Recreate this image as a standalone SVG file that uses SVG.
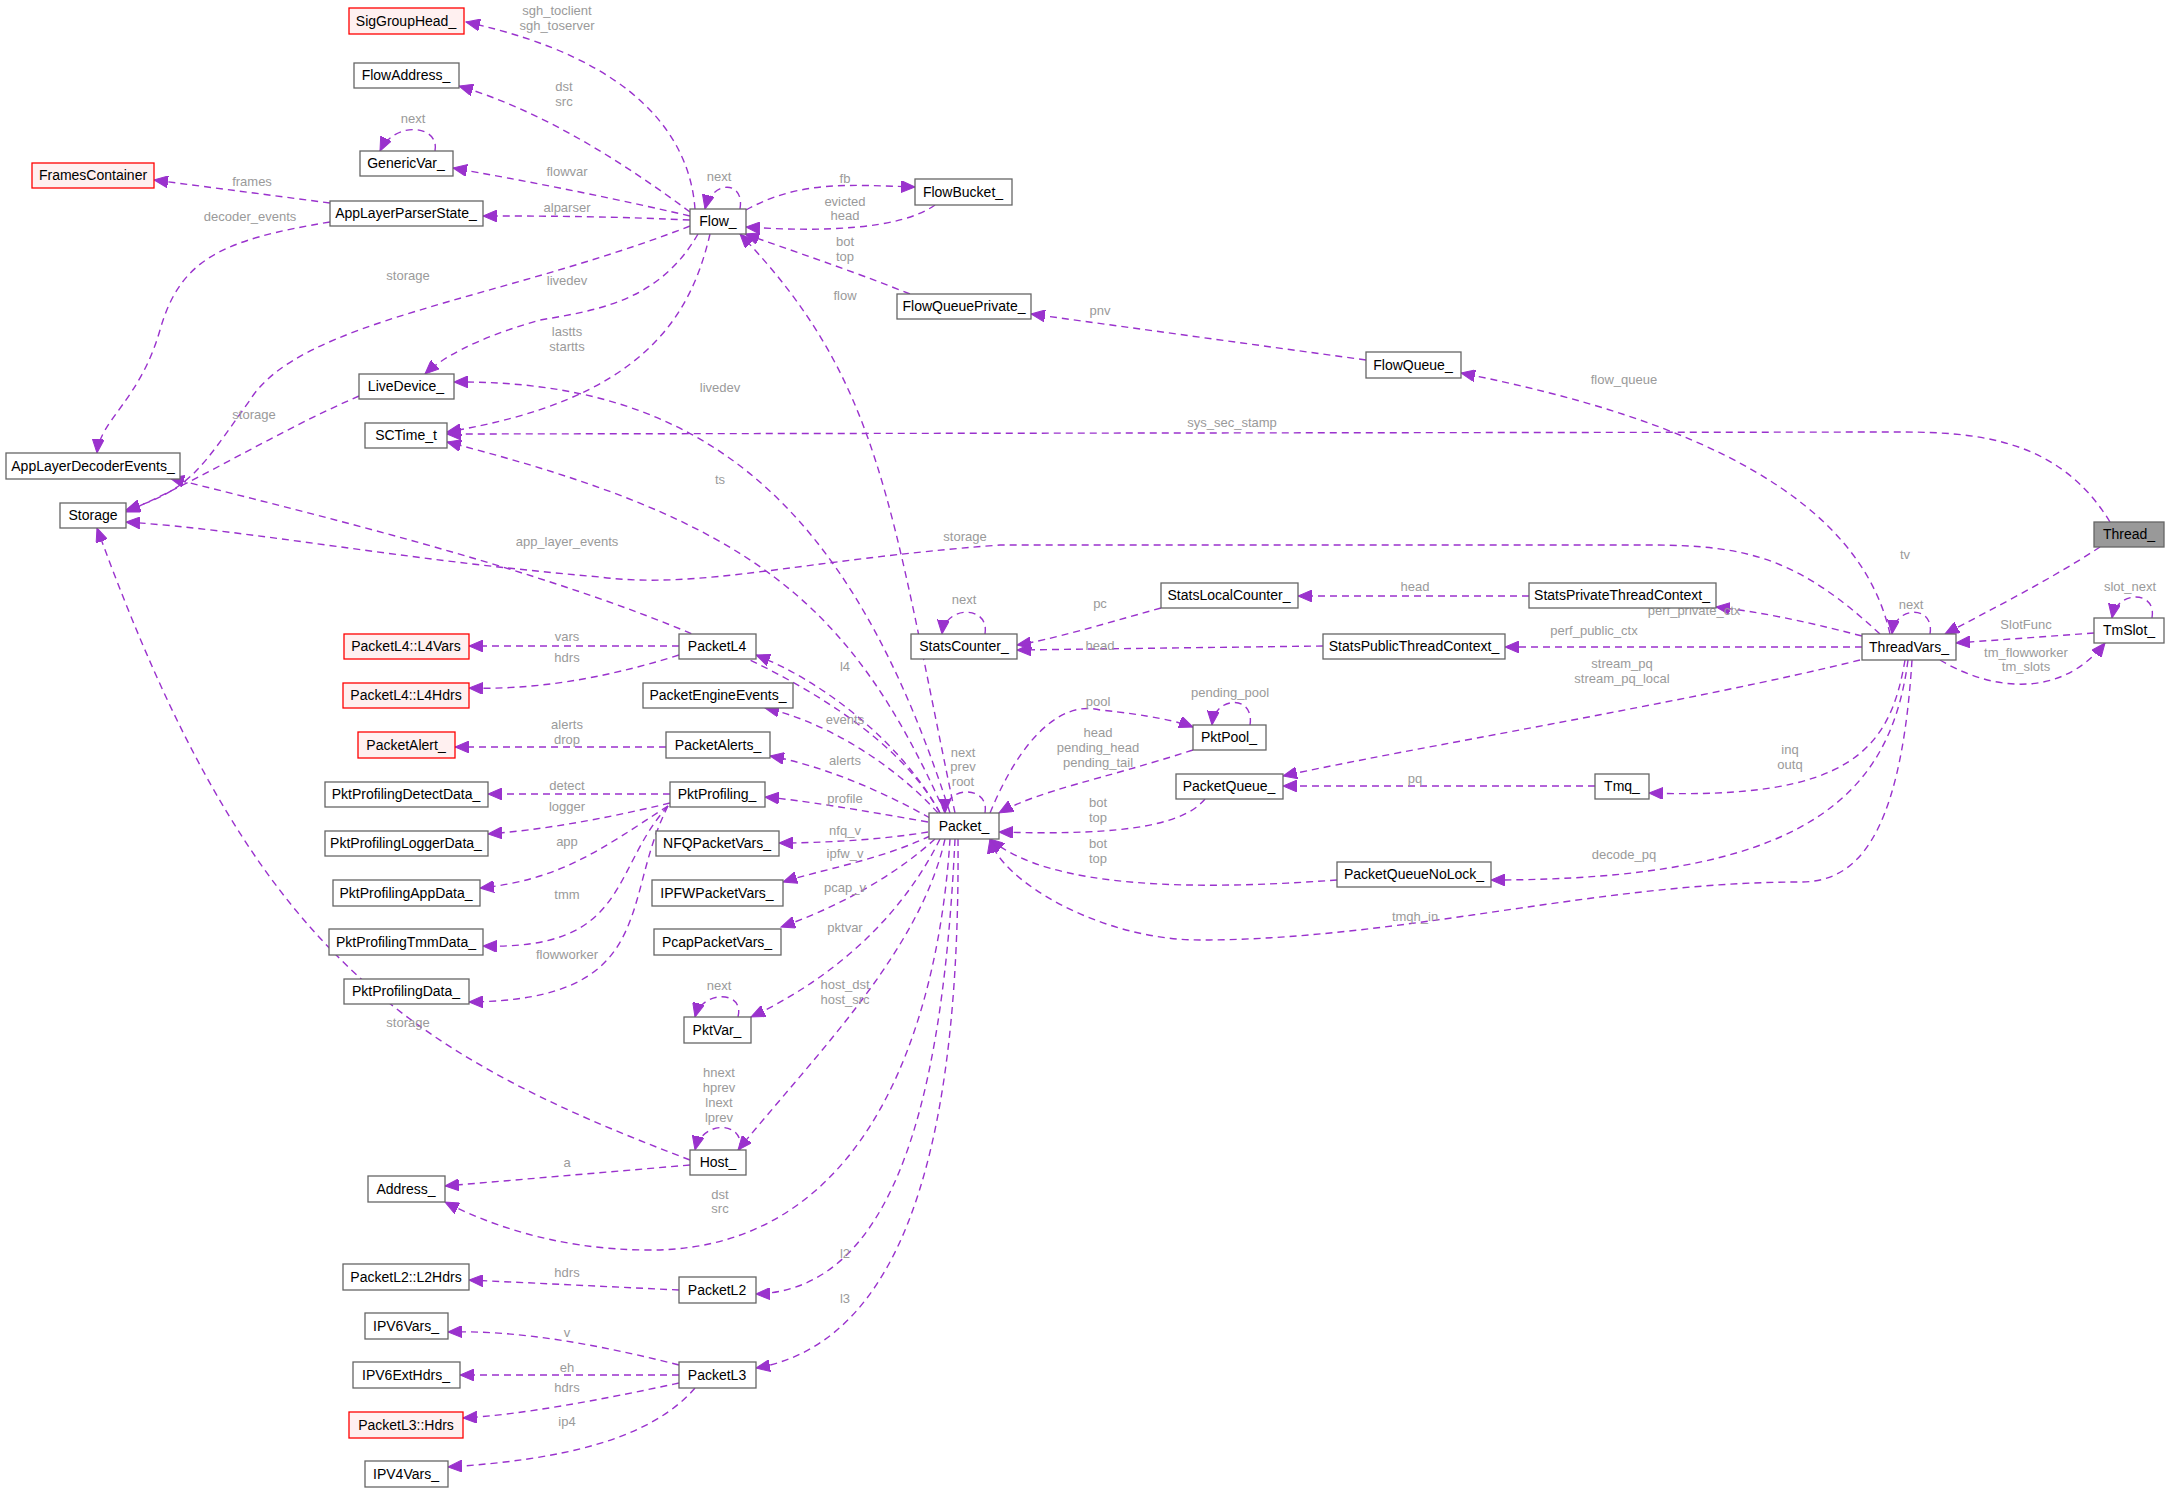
<svg xmlns="http://www.w3.org/2000/svg" width="2169" height="1493" viewBox="0 0 2169 1493">
<style>
.n rect{fill:#fff;stroke:#666;stroke-width:1.3}
.n.r rect{fill:#fff0f0;stroke:#f00}
.n.g rect{fill:#999}
.n text{font-family:"Liberation Sans",Arial,sans-serif;font-size:14px;text-anchor:middle;fill:#000}
#edges path{fill:none;stroke:#9a32cd;stroke-width:1.4;stroke-dasharray:7,5;marker-end:url(#a)}
.l{font-family:"Liberation Sans",Arial,sans-serif;font-size:13px;fill:#9a9a9a;text-anchor:middle}
</style>
<defs><marker id="a" markerUnits="userSpaceOnUse" markerWidth="16" markerHeight="12" refX="14" refY="6" orient="auto"><path d="M0,0 L14,6 L0,12 Z" fill="#9a32cd" stroke="#9a32cd"/></marker></defs>
<rect width="2169" height="1493" fill="#fff"/>
<g id="edges">
<path d="M695,209 C690,140 640,60 466,22"/>
<path d="M690,212 C620,160 540,110 459,86"/>
<path d="M690,216 C600,195 520,180 453,168"/>
<path d="M435,151 C440,125 395,120 380,151"/>
<path d="M330,203 L154,180"/>
<path d="M330,222 C220,240 180,260 160,330 C140,400 100,420 97,453"/>
<path d="M690,220 C600,216 540,216 483,216"/>
<path d="M740,209 C745,180 712,180 705,209"/>
<path d="M746,210 C800,180 850,185 915,187"/>
<path d="M935,205 C900,230 820,232 746,227"/>
<path d="M910,294 C850,270 790,250 745,234"/>
<path d="M1366,360 L1031,314"/>
<path d="M690,226 C500,300 300,320 250,400 C200,470 190,490 126,510"/>
<path d="M698,234 C660,300 600,310 540,320 C470,340 440,360 425,374"/>
<path d="M710,234 C690,320 640,400 447,432"/>
<path d="M359,396 C280,430 200,480 126,512"/>
<path d="M955,813 C890,500 880,380 740,234"/>
<path d="M950,813 C850,500 700,380 454,382"/>
<path d="M2110,522 C2060,440 1980,432 1900,432 L447,434"/>
<path d="M945,813 C850,600 750,520 447,442"/>
<path d="M1890,634 C1860,500 1700,420 1461,373"/>
<path d="M940,813 C850,650 500,560 170,478"/>
<path d="M1880,634 C1800,560 1750,545 1650,545 L1000,545 C800,560 700,590 600,577 C400,560 250,530 126,522"/>
<path d="M690,1160 C400,1050 250,950 97,528"/>
<path d="M679,646 L469,646"/>
<path d="M679,655 C600,680 530,690 469,688"/>
<path d="M940,813 C900,740 820,680 756,655"/>
<path d="M938,813 C890,760 820,720 765,708"/>
<path d="M666,747 L455,747"/>
<path d="M930,818 C880,790 820,765 770,756"/>
<path d="M670,794 L488,794"/>
<path d="M670,803 C600,820 540,830 488,834"/>
<path d="M668,806 C600,850 560,880 480,888"/>
<path d="M668,806 C610,870 630,950 483,946"/>
<path d="M668,806 C620,900 660,1000 469,1002"/>
<path d="M928,822 C860,810 800,800 765,797"/>
<path d="M928,832 C880,840 820,843 779,843"/>
<path d="M930,836 C880,860 820,870 783,882"/>
<path d="M935,839 C890,880 830,910 781,927"/>
<path d="M940,839 C900,920 830,980 751,1017"/>
<path d="M738,1017 C745,990 702,990 695,1017"/>
<path d="M945,839 C920,950 820,1050 738,1150"/>
<path d="M740,1150 C745,1120 702,1120 695,1150"/>
<path d="M690,1165 L445,1186"/>
<path d="M950,839 C940,1000 880,1250 650,1250 C550,1250 480,1220 445,1202"/>
<path d="M679,1290 L469,1280"/>
<path d="M955,839 C945,1050 910,1290 756,1294"/>
<path d="M958,839 C960,1100 920,1340 756,1368"/>
<path d="M679,1365 C600,1345 520,1330 448,1332"/>
<path d="M679,1375 L460,1375"/>
<path d="M679,1383 C600,1400 520,1415 463,1418"/>
<path d="M695,1388 C650,1440 560,1460 448,1467"/>
<path d="M985,813 C990,785 945,785 945,813"/>
<path d="M990,813 C1020,740 1060,700 1100,710 C1150,715 1180,722 1193,727"/>
<path d="M1250,725 C1255,695 1215,695 1212,725"/>
<path d="M1193,750 C1100,780 1040,790 999,813"/>
<path d="M1205,799 C1180,830 1100,835 999,832"/>
<path d="M1337,880 C1200,890 1050,890 990,839"/>
<path d="M1860,660 C1700,700 1400,750 1283,776"/>
<path d="M1595,786 L1283,786"/>
<path d="M1905,660 C1890,750 1850,800 1649,793"/>
<path d="M1908,660 C1890,800 1800,880 1491,880"/>
<path d="M1912,660 C1900,850 1850,882 1800,882 C1600,882 1400,940 1200,940 C1100,940 1000,880 990,839"/>
<path d="M1529,596 L1298,596"/>
<path d="M1161,608 C1100,625 1050,640 1017,645"/>
<path d="M1323,646 L1017,650"/>
<path d="M985,634 C990,605 945,605 942,634"/>
<path d="M1862,636 C1800,620 1760,612 1716,607"/>
<path d="M1862,647 L1505,647"/>
<path d="M1930,634 C1935,605 1895,605 1892,634"/>
<path d="M2100,547 C2050,580 1990,610 1945,634"/>
<path d="M2094,633 L1956,643"/>
<path d="M1940,660 C1990,690 2060,700 2105,643"/>
<path d="M2152,618 C2157,590 2117,590 2112,618"/>
</g>
<g id="labels">
<text class="l" x="557" y="15">sgh_toclient</text><text class="l" x="557" y="30">sgh_toserver</text>
<text class="l" x="564" y="91">dst</text><text class="l" x="564" y="106">src</text>
<text class="l" x="567" y="176">flowvar</text>
<text class="l" x="413" y="123">next</text>
<text class="l" x="252" y="186">frames</text>
<text class="l" x="250" y="221">decoder_events</text>
<text class="l" x="567" y="212">alparser</text>
<text class="l" x="719" y="181">next</text>
<text class="l" x="845" y="183">fb</text>
<text class="l" x="845" y="206">evicted</text><text class="l" x="845" y="220">head</text>
<text class="l" x="845" y="246">bot</text><text class="l" x="845" y="261">top</text>
<text class="l" x="1100" y="315">pnv</text>
<text class="l" x="408" y="280">storage</text>
<text class="l" x="567" y="285">livedev</text>
<text class="l" x="567" y="336">lastts</text><text class="l" x="567" y="351">startts</text>
<text class="l" x="254" y="419">storage</text>
<text class="l" x="845" y="300">flow</text>
<text class="l" x="720" y="392">livedev</text>
<text class="l" x="1232" y="427">sys_sec_stamp</text>
<text class="l" x="720" y="484">ts</text>
<text class="l" x="1624" y="384">flow_queue</text>
<text class="l" x="567" y="546">app_layer_events</text>
<text class="l" x="965" y="541">storage</text>
<text class="l" x="408" y="1027">storage</text>
<text class="l" x="567" y="641">vars</text>
<text class="l" x="567" y="662">hdrs</text>
<text class="l" x="845" y="671">l4</text>
<text class="l" x="845" y="724">events</text>
<text class="l" x="567" y="729">alerts</text><text class="l" x="567" y="744">drop</text>
<text class="l" x="845" y="765">alerts</text>
<text class="l" x="567" y="790">detect</text>
<text class="l" x="567" y="811">logger</text>
<text class="l" x="567" y="846">app</text>
<text class="l" x="567" y="899">tmm</text>
<text class="l" x="567" y="959">flowworker</text>
<text class="l" x="845" y="803">profile</text>
<text class="l" x="845" y="835">nfq_v</text>
<text class="l" x="845" y="858">ipfw_v</text>
<text class="l" x="845" y="892">pcap_v</text>
<text class="l" x="845" y="932">pktvar</text>
<text class="l" x="719" y="990">next</text>
<text class="l" x="845" y="989">host_dst</text><text class="l" x="845" y="1004">host_src</text>
<text class="l" x="719" y="1077">hnext</text><text class="l" x="719" y="1092">hprev</text><text class="l" x="719" y="1107">lnext</text><text class="l" x="719" y="1122">lprev</text>
<text class="l" x="567" y="1167">a</text>
<text class="l" x="720" y="1199">dst</text><text class="l" x="720" y="1213">src</text>
<text class="l" x="567" y="1277">hdrs</text>
<text class="l" x="845" y="1258">l2</text>
<text class="l" x="845" y="1303">l3</text>
<text class="l" x="567" y="1337">v</text>
<text class="l" x="567" y="1372">eh</text>
<text class="l" x="567" y="1392">hdrs</text>
<text class="l" x="567" y="1426">ip4</text>
<text class="l" x="963" y="757">next</text><text class="l" x="963" y="771">prev</text><text class="l" x="963" y="786">root</text>
<text class="l" x="1098" y="706">pool</text>
<text class="l" x="1230" y="697">pending_pool</text>
<text class="l" x="1098" y="737">head</text><text class="l" x="1098" y="752">pending_head</text><text class="l" x="1098" y="767">pending_tail</text>
<text class="l" x="1098" y="807">bot</text><text class="l" x="1098" y="822">top</text>
<text class="l" x="1098" y="848">bot</text><text class="l" x="1098" y="863">top</text>
<text class="l" x="1622" y="668">stream_pq</text><text class="l" x="1622" y="683">stream_pq_local</text>
<text class="l" x="1415" y="783">pq</text>
<text class="l" x="1790" y="754">inq</text><text class="l" x="1790" y="769">outq</text>
<text class="l" x="1624" y="859">decode_pq</text>
<text class="l" x="1415" y="921">tmqh_in</text>
<text class="l" x="1415" y="591">head</text>
<text class="l" x="1100" y="608">pc</text>
<text class="l" x="1100" y="650">head</text>
<text class="l" x="964" y="604">next</text>
<text class="l" x="1694" y="615">perf_private_ctx</text>
<text class="l" x="1594" y="635">perf_public_ctx</text>
<text class="l" x="1911" y="609">next</text>
<text class="l" x="1905" y="559">tv</text>
<text class="l" x="2026" y="629">SlotFunc</text>
<text class="l" x="2026" y="657">tm_flowworker</text><text class="l" x="2026" y="671">tm_slots</text>
<text class="l" x="2130" y="591">slot_next</text>
</g>
<g id="n_SigGroupHead" class="n r"><rect x="349" y="8" width="115" height="26"/><text x="406" y="26">SigGroupHead_</text></g>
<g id="n_FlowAddress" class="n"><rect x="354" y="63" width="105" height="25"/><text x="406" y="80">FlowAddress_</text></g>
<g id="n_GenericVar" class="n"><rect x="360" y="151" width="93" height="25"/><text x="406" y="168">GenericVar_</text></g>
<g id="n_FramesContainer" class="n r"><rect x="32" y="163" width="122" height="25"/><text x="93" y="180">FramesContainer</text></g>
<g id="n_AppLayerParserState" class="n"><rect x="330" y="201" width="153" height="25"/><text x="406" y="218">AppLayerParserState_</text></g>
<g id="n_Flow" class="n"><rect x="690" y="209" width="56" height="25"/><text x="718" y="226">Flow_</text></g>
<g id="n_FlowBucket" class="n"><rect x="915" y="179" width="97" height="26"/><text x="963" y="197">FlowBucket_</text></g>
<g id="n_FlowQueuePrivate" class="n"><rect x="897" y="294" width="134" height="25"/><text x="964" y="311">FlowQueuePrivate_</text></g>
<g id="n_FlowQueue" class="n"><rect x="1366" y="352" width="95" height="26"/><text x="1413" y="370">FlowQueue_</text></g>
<g id="n_LiveDevice" class="n"><rect x="359" y="374" width="95" height="25"/><text x="406" y="391">LiveDevice_</text></g>
<g id="n_SCTime" class="n"><rect x="365" y="423" width="82" height="25"/><text x="406" y="440">SCTime_t</text></g>
<g id="n_AppLayerDecoderEvents" class="n"><rect x="6" y="453" width="174" height="26"/><text x="93" y="471">AppLayerDecoderEvents_</text></g>
<g id="n_Storage" class="n"><rect x="60" y="503" width="66" height="25"/><text x="93" y="520">Storage</text></g>
<g id="n_Thread" class="n g"><rect x="2094" y="522" width="70" height="25"/><text x="2129" y="539">Thread_</text></g>
<g id="n_ThreadVars" class="n"><rect x="1862" y="634" width="94" height="26"/><text x="1909" y="652">ThreadVars_</text></g>
<g id="n_TmSlot" class="n"><rect x="2094" y="618" width="70" height="25"/><text x="2129" y="635">TmSlot_</text></g>
<g id="n_StatsLocalCounter" class="n"><rect x="1161" y="583" width="137" height="25"/><text x="1229" y="600">StatsLocalCounter_</text></g>
<g id="n_StatsPrivateThreadContext" class="n"><rect x="1529" y="583" width="187" height="25"/><text x="1622" y="600">StatsPrivateThreadContext_</text></g>
<g id="n_StatsPublicThreadContext" class="n"><rect x="1323" y="634" width="182" height="25"/><text x="1414" y="651">StatsPublicThreadContext_</text></g>
<g id="n_StatsCounter" class="n"><rect x="911" y="634" width="106" height="25"/><text x="964" y="651">StatsCounter_</text></g>
<g id="n_L4Vars" class="n r"><rect x="344" y="634" width="125" height="25"/><text x="406" y="651">PacketL4::L4Vars</text></g>
<g id="n_PacketL4" class="n"><rect x="679" y="634" width="77" height="25"/><text x="717" y="651">PacketL4</text></g>
<g id="n_L4Hdrs" class="n r"><rect x="343" y="683" width="126" height="25"/><text x="406" y="700">PacketL4::L4Hdrs</text></g>
<g id="n_PacketEngineEvents" class="n"><rect x="643" y="683" width="150" height="25"/><text x="718" y="700">PacketEngineEvents_</text></g>
<g id="n_PacketAlert" class="n r"><rect x="358" y="732" width="97" height="26"/><text x="406" y="750">PacketAlert_</text></g>
<g id="n_PacketAlerts" class="n"><rect x="666" y="732" width="104" height="26"/><text x="718" y="750">PacketAlerts_</text></g>
<g id="n_PktProfilingDetectData" class="n"><rect x="325" y="782" width="163" height="25"/><text x="406" y="799">PktProfilingDetectData_</text></g>
<g id="n_PktProfiling" class="n"><rect x="670" y="782" width="95" height="25"/><text x="717" y="799">PktProfiling_</text></g>
<g id="n_PktProfilingLoggerData" class="n"><rect x="325" y="831" width="163" height="25"/><text x="406" y="848">PktProfilingLoggerData_</text></g>
<g id="n_NFQPacketVars" class="n"><rect x="656" y="831" width="123" height="25"/><text x="717" y="848">NFQPacketVars_</text></g>
<g id="n_PktProfilingAppData" class="n"><rect x="333" y="880" width="147" height="26"/><text x="406" y="898">PktProfilingAppData_</text></g>
<g id="n_IPFWPacketVars" class="n"><rect x="652" y="880" width="131" height="26"/><text x="717" y="898">IPFWPacketVars_</text></g>
<g id="n_PktProfilingTmmData" class="n"><rect x="329" y="929" width="154" height="26"/><text x="406" y="947">PktProfilingTmmData_</text></g>
<g id="n_PcapPacketVars" class="n"><rect x="654" y="929" width="127" height="26"/><text x="717" y="947">PcapPacketVars_</text></g>
<g id="n_PktProfilingData" class="n"><rect x="344" y="979" width="125" height="25"/><text x="406" y="996">PktProfilingData_</text></g>
<g id="n_PktVar" class="n"><rect x="684" y="1017" width="67" height="26"/><text x="717" y="1035">PktVar_</text></g>
<g id="n_Packet" class="n"><rect x="929" y="813" width="70" height="26"/><text x="964" y="831">Packet_</text></g>
<g id="n_Host" class="n"><rect x="690" y="1150" width="56" height="25"/><text x="718" y="1167">Host_</text></g>
<g id="n_Address" class="n"><rect x="368" y="1176" width="77" height="26"/><text x="406" y="1194">Address_</text></g>
<g id="n_L2Hdrs" class="n"><rect x="343" y="1264" width="126" height="26"/><text x="406" y="1282">PacketL2::L2Hdrs</text></g>
<g id="n_PacketL2" class="n"><rect x="679" y="1277" width="77" height="26"/><text x="717" y="1295">PacketL2</text></g>
<g id="n_IPV6Vars" class="n"><rect x="365" y="1313" width="83" height="26"/><text x="406" y="1331">IPV6Vars_</text></g>
<g id="n_IPV6ExtHdrs" class="n"><rect x="353" y="1362" width="107" height="26"/><text x="406" y="1380">IPV6ExtHdrs_</text></g>
<g id="n_PacketL3" class="n"><rect x="679" y="1362" width="77" height="26"/><text x="717" y="1380">PacketL3</text></g>
<g id="n_L3Hdrs" class="n r"><rect x="349" y="1412" width="114" height="26"/><text x="406" y="1430">PacketL3::Hdrs</text></g>
<g id="n_IPV4Vars" class="n"><rect x="365" y="1461" width="83" height="26"/><text x="406" y="1479">IPV4Vars_</text></g>
<g id="n_PktPool" class="n"><rect x="1193" y="725" width="73" height="25"/><text x="1229" y="742">PktPool_</text></g>
<g id="n_PacketQueue" class="n"><rect x="1176" y="774" width="107" height="25"/><text x="1229" y="791">PacketQueue_</text></g>
<g id="n_Tmq" class="n"><rect x="1595" y="774" width="54" height="25"/><text x="1622" y="791">Tmq_</text></g>
<g id="n_PacketQueueNoLock" class="n"><rect x="1337" y="862" width="154" height="25"/><text x="1414" y="879">PacketQueueNoLock_</text></g>
</svg>
